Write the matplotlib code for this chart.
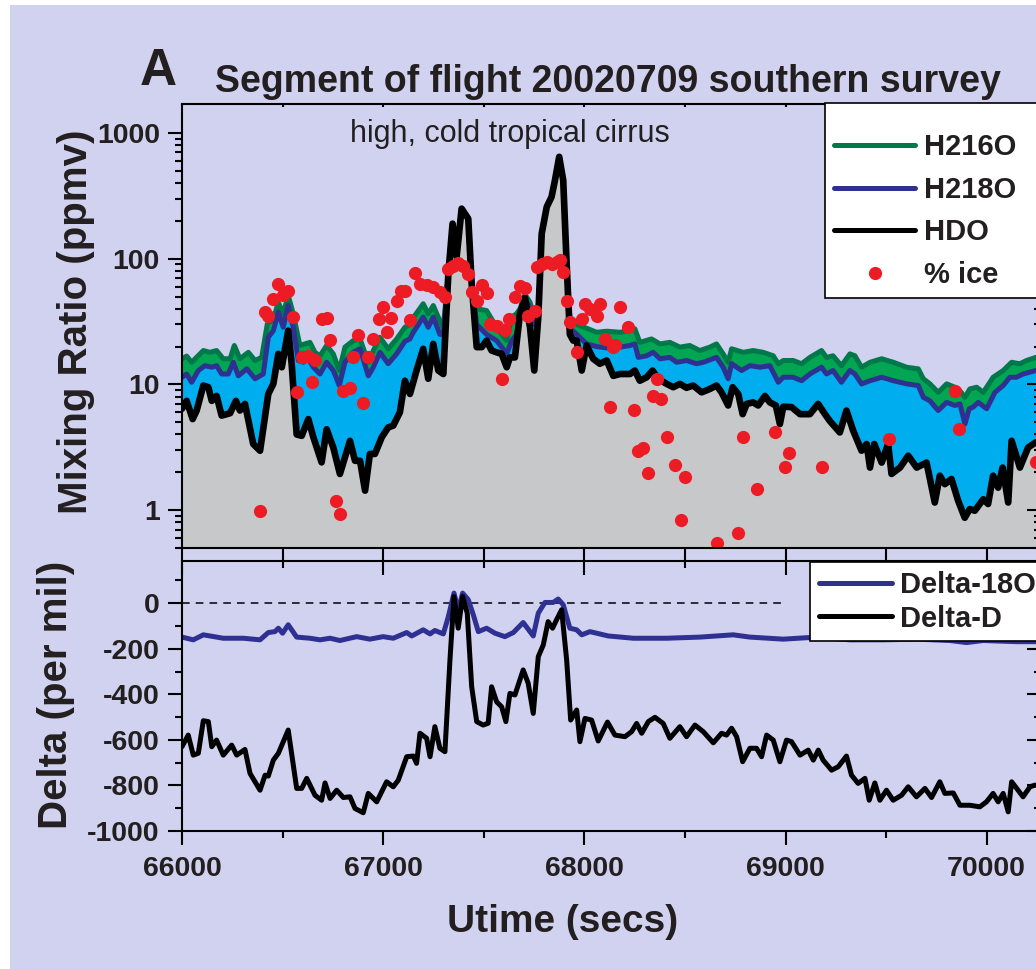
import numpy as np
import matplotlib
matplotlib.use("Agg")
import matplotlib.pyplot as plt
from matplotlib import lines as mlines
from matplotlib.patches import Rectangle
from matplotlib.ticker import MultipleLocator, LogLocator, NullFormatter, FormatStrFormatter

T0 = 66000  # start of the flight segment (secs)

# --- mixing ratios (ppmv); times are secs after T0 ---
hdo_t = [0, 23, 53, 73, 106, 131, 148, 172, 197, 239,
         268, 288, 313, 354, 388, 429, 454, 479, 496, 528,
         545, 570, 595, 628, 653, 694, 719, 752, 785, 835,
         860, 885, 910, 934, 959, 993, 1025, 1050, 1083, 1108,
         1133, 1166, 1199, 1224, 1249, 1274, 1299, 1324, 1345, 1365,
         1390, 1423, 1440, 1465, 1490, 1514, 1539, 1564, 1589, 1614,
         1630, 1655, 1680, 1705, 1730, 1751, 1771, 1788, 1813, 1837,
         1854, 1875, 1895, 1912, 1928, 1945, 1962, 1987, 2011, 2044,
         2077, 2111, 2144, 2177, 2227, 2251, 2276, 2310, 2339, 2367,
         2409, 2442, 2475, 2508, 2541, 2583, 2624, 2657, 2682, 2715,
         2737, 2765, 2787, 2807, 2839, 2864, 2898, 2922, 2952, 2972,
         2989, 3030, 3072, 3121, 3162, 3196, 3221, 3270, 3303, 3336,
         3378, 3403, 3420, 3441, 3478, 3510, 3527, 3569, 3610, 3652,
         3701, 3742, 3767, 3792, 3825, 3858, 3891, 3916, 3941, 3983,
         4007, 4032, 4057, 4079, 4107, 4124, 4165, 4206, 4244, 4270]
hdo = [6.4, 7.4, 5.3, 6.2, 9.8, 9.5, 7.4, 8.1, 5.65, 5.9,
       7.4, 6.2, 7.0, 3.36, 2.97, 8.4, 10.1, 17.5, 13.7, 26.8,
       14.6, 4.0, 3.9, 5.3, 3.8, 2.4, 4.4, 3.15, 1.94, 3.56,
       2.47, 2.47, 1.43, 2.8, 2.8, 3.8, 4.55, 4.7, 6.0, 10.7,
       8.4, 12.9, 19.2, 11.1, 21, 12.9, 12.1, 76, 190, 103,
       250, 208, 63, 19.8, 19.8, 22.3, 18.6, 18, 17.5, 13.7,
       16.4, 16.4, 36.5, 49, 28.5, 12.9, 34.3, 158, 258, 310,
       421, 646, 421, 91, 25, 22.3, 22.3, 12.9, 20.4, 16,
       14.6, 15.5, 11.7, 12.1, 12.1, 12.9, 10.7, 11.4, 12.9, 11.1,
       10.1, 9.5, 10.1, 9.4, 9.8, 8.65, 9.2, 9.8, 8.65, 6.8,
       9.5, 8.4, 5.8, 7.0, 7.2, 6.8, 8.1, 7.2, 6.8, 4.84,
       6.65, 6.6, 5.8, 5.8, 7.0, 5.8, 5.1, 4.15, 6.2, 4.3,
       2.97, 3.36, 2.18, 3.36, 2.39, 3.36, 1.94, 2.18, 2.71, 2.18,
       2.39, 1.15, 1.88, 1.61, 1.77, 1.19, 0.87, 1.02, 0.99, 1.22,
       1.12, 1.88, 1.51, 2.18, 1.15, 3.56, 2.18, 3.15, 3.46, 3.5]

h218o_t = [0, 23, 48, 81, 114, 148, 172, 197, 230, 255,
           280, 322, 363, 404, 429, 454, 479, 503, 528, 553,
           578, 603, 628, 653, 686, 719, 752, 782, 810, 851,
           885, 926, 951, 984, 1025, 1067, 1108, 1133, 1150, 1199,
           1224, 1249, 1282, 1299, 1324, 1345, 1365, 1390, 1423, 1440,
           1465, 1514, 1564, 1589, 1614, 1639, 1663, 1680, 1705, 1730,
           1751, 1771, 1788, 1813, 1837, 1854, 1875, 1895, 1912, 1928,
           1962, 2011, 2061, 2111, 2160, 2177, 2227, 2251, 2268, 2310,
           2342, 2376, 2425, 2459, 2508, 2558, 2591, 2657, 2690, 2715,
           2732, 2782, 2823, 2873, 2922, 2964, 2989, 3038, 3080, 3121,
           3179, 3204, 3236, 3278, 3320, 3345, 3378, 3420, 3478, 3536,
           3602, 3660, 3685, 3718, 3759, 3801, 3842, 3867, 3892, 3913,
           3933, 3958, 4000, 4041, 4082, 4115, 4148, 4181, 4244, 4270]
h218o = [11.4, 12.1, 10.4, 12.9, 14.1, 13.7, 14.1, 12.1, 12.1, 15.0,
         11.7, 13.3, 11.1, 12.1, 23.7, 26.8, 37.6, 28.5, 42.4, 28.5,
         15.5, 15.0, 16, 13.7, 12.1, 15.0, 12.9, 9.8, 15.0, 18,
         19.2, 11.7, 13.7, 18, 14.6, 17.5, 22, 23, 26, 34.3,
         28.5, 34.3, 25, 25, 76, 190, 103, 250, 208, 63,
         30, 25, 22.3, 19.8, 17.5, 22.3, 25, 36.5, 49, 40,
         30, 34.3, 158, 258, 310, 421, 646, 421, 91, 28,
         25, 21, 20, 19.5, 19.8, 19.8, 20.4, 21, 16.4, 16.9,
         18, 16, 16.4, 15, 15.5, 14.6, 15, 16.4, 13.7, 11.1,
         14.6, 12.9, 14.1, 13.7, 14.1, 10.4, 11.4, 11.4, 10.7, 12.1,
         13.7, 12.1, 12.9, 10.4, 12.9, 12.1, 10.1, 10.7, 11.4, 10.7,
         10.1, 9.8, 7.9, 7.4, 6.2, 7.2, 6.8, 7.0, 4.84, 6.4,
         6.6, 7.2, 6.4, 8.65, 9.8, 11.4, 11.4, 12.1, 12.9, 13]

h216o_t = [0, 23, 48, 106, 139, 172, 205, 239, 260, 288,
           330, 363, 396, 424, 454, 479, 503, 528, 553, 586,
           611, 636, 661, 686, 719, 752, 782, 810, 851, 885,
           926, 951, 984, 1025, 1067, 1108, 1133, 1150, 1199, 1224,
           1249, 1282, 1299, 1324, 1345, 1365, 1390, 1423, 1440, 1465,
           1514, 1564, 1589, 1614, 1639, 1663, 1680, 1705, 1730, 1751,
           1771, 1788, 1813, 1837, 1854, 1875, 1895, 1912, 1928, 1962,
           2011, 2061, 2111, 2177, 2227, 2251, 2276, 2334, 2376, 2425,
           2475, 2524, 2574, 2624, 2657, 2690, 2715, 2732, 2790, 2839,
           2889, 2939, 2964, 2989, 3038, 3080, 3121, 3179, 3204, 3236,
           3278, 3320, 3345, 3378, 3420, 3478, 3536, 3602, 3660, 3685,
           3718, 3759, 3801, 3842, 3867, 3892, 3916, 3950, 3983, 4032,
           4082, 4124, 4165, 4198, 4244, 4270]
h216o = [16, 16.8, 15, 18.6, 18, 18.6, 16, 16, 20.4, 16,
         18, 15.5, 16.4, 30.3, 33, 45, 36.5, 51, 36.5, 20.4,
         21, 21.6, 18, 16.9, 20.4, 17.5, 12.9, 19.8, 22.3, 23,
         15, 18.6, 23.7, 19.2, 23, 28.5, 30, 34, 43.8, 36.5,
         42.4, 32, 28.5, 76, 190, 103, 250, 208, 63, 40,
         38.7, 28.5, 25, 22.3, 34.3, 36.5, 40, 52, 45, 34,
         36, 158, 258, 310, 421, 646, 421, 91, 33, 30,
         28, 26, 26.5, 26, 26.8, 27.7, 21.6, 23, 21, 21.6,
         19.8, 20.4, 18.6, 19.8, 21, 17.5, 15, 19.2, 18, 18.6,
         18, 16.9, 14.6, 15.5, 15.5, 14.6, 16.4, 18.6, 16.4, 16.9,
         14.1, 17.5, 16.9, 13.7, 15, 16, 15, 13.7, 13.3, 11.1,
         10.1, 8.65, 10.1, 9.5, 8.9, 7.9, 9.2, 9.5, 8.65, 11.4,
         12.9, 15, 14.6, 15.5, 16.4, 16.5]

# percent of total water present as ice
ice_t = [388, 413, 429, 454, 479, 503, 528, 553, 570, 595,
         628, 645, 661, 694, 719, 736, 765, 785, 802, 835,
         851, 876, 901, 926, 948, 981, 998, 1020, 1037, 1067,
         1087, 1108, 1133, 1158, 1183, 1216, 1249, 1282, 1307, 1324,
         1348, 1373, 1398, 1423, 1440, 1465, 1490, 1517, 1531, 1564,
         1589, 1605, 1627, 1655, 1680, 1705, 1721, 1754, 1763, 1788,
         1813, 1837, 1862, 1879, 1892, 1912, 1928, 1962, 1987, 2003,
         2028, 2061, 2077, 2102, 2127, 2144, 2152, 2177, 2218, 2246,
         2268, 2293, 2318, 2339, 2359, 2381, 2409, 2450, 2480, 2501,
         2661, 2765, 2787, 2856, 2947, 2997, 3018, 3182, 3515, 3842,
         3863, 4244]
ice = [0.99, 37.6, 35.3, 48, 63, 51, 55, 34.3, 8.65, 16.6,
       16.9, 10.4, 15.5, 33, 33.8, 22.6, 1.19, 0.93, 8.9, 9.3,
       16.4, 24.9, 7.1, 16.6, 23, 33, 41.6, 26, 33.8, 46.5,
       55.6, 55.6, 32.3, 76.8, 63, 61.3, 59.2, 54.2, 49.3, 83,
       88, 92, 88, 76, 54, 46.5, 62, 53, 30.3, 29.4,
       11.1, 27, 33, 49.3, 61, 59, 35.3, 38.7, 86, 91,
       94, 91, 94, 98, 78, 46.5, 31.3, 18, 33, 43.7,
       40, 35.3, 43.7, 23, 6.6, 19.8, 20.4, 41, 28.8, 6.3,
       2.97, 3.15, 1.97, 8.05, 11.1, 7.66, 3.84, 2.28, 0.83, 1.82,
       0.546, 0.66, 3.84, 1.47, 4.15, 2.21, 2.83, 2.21, 3.68, 8.9,
       4.42, 2.4]

# --- isotope ratios (per mil) ---
d18o_t = [0, 56, 106, 205, 305, 388, 429, 462, 479, 500,
          528, 570, 636, 686, 736, 785, 868, 934, 1000, 1050,
          1117, 1142, 1199, 1233, 1257, 1299, 1324, 1352, 1373, 1395,
          1423, 1448, 1473, 1514, 1556, 1605, 1647, 1696, 1746, 1771,
          1804, 1845, 1870, 1895, 1928, 1962, 1987, 2028, 2119, 2243,
          2409, 2575, 2740, 2823, 2989, 3154, 3320, 3485, 3651, 3817,
          3900, 3983, 4148, 4239, 4270]
d18o = [-149, -161, -139, -154, -154, -161, -129, -125, -110, -132,
        -95, -149, -154, -161, -154, -164, -147, -158, -147, -154,
        -129, -144, -117, -135, -120, -135, -59, 44, -30, 44,
        15, -51, -125, -110, -132, -147, -129, -85, -144, -44,
        3, 3, 18, -7, -110, -117, -139, -125, -144, -154,
        -154, -149, -139, -149, -158, -149, -161, -161, -158, -164,
        -173, -164, -169, -169, -170]

dD_t = [0, 31, 56, 81, 106, 131, 148, 172, 205, 247,
        272, 313, 338, 388, 413, 429, 454, 479, 528, 570,
        595, 620, 661, 694, 711, 736, 769, 802, 835, 860,
        901, 926, 968, 1017, 1050, 1075, 1117, 1150, 1166, 1183,
        1216, 1233, 1257, 1282, 1307, 1332, 1352, 1373, 1395, 1418,
        1440, 1465, 1497, 1522, 1539, 1564, 1589, 1610, 1630, 1655,
        1696, 1721, 1746, 1771, 1796, 1820, 1842, 1862, 1887, 1912,
        1932, 1962, 1978, 2003, 2036, 2069, 2115, 2152, 2202, 2235,
        2260, 2285, 2318, 2351, 2392, 2425, 2475, 2508, 2550, 2591,
        2641, 2682, 2707, 2732, 2757, 2787, 2823, 2856, 2881, 2906,
        2939, 2972, 3005, 3030, 3072, 3113, 3138, 3163, 3187, 3229,
        3262, 3303, 3328, 3361, 3395, 3416, 3444, 3469, 3502, 3535,
        3577, 3610, 3651, 3693, 3726, 3767, 3792, 3834, 3867, 3916,
        3966, 3999, 4032, 4057, 4082, 4107, 4124, 4156, 4181, 4215,
        4239, 4270]
dD = [-630, -579, -667, -659, -516, -520, -630, -601, -667, -623,
      -667, -642, -747, -821, -755, -759, -689, -659, -557, -813,
      -813, -769, -843, -865, -789, -857, -821, -853, -850, -901,
      -920, -835, -872, -784, -806, -777, -674, -671, -703, -571,
      -593, -674, -542, -637, -652, -249, 29, -110, 29, -44,
      -367, -520, -535, -527, -367, -433, -455, -520, -396, -403,
      -293, -352, -484, -235, -183, -81, -110, -73, -29, -249,
      -513, -469, -608, -506, -513, -605, -522, -579, -586, -564,
      -528, -571, -520, -501, -528, -593, -542, -586, -535, -564,
      -613, -571, -579, -549, -586, -696, -637, -637, -674, -579,
      -601, -696, -601, -608, -667, -645, -689, -645, -689, -733,
      -718, -671, -755, -791, -769, -865, -789, -865, -821, -865,
      -843, -806, -850, -813, -853, -784, -835, -833, -887, -887,
      -894, -872, -835, -872, -835, -916, -784, -821, -850, -806,
      -799, -800]

x_ticks = [66000, 67000, 68000, 69000, 70000]
mix_ticks = [1, 10, 100, 1000]
delta_ticks = [-1000, -800, -600, -400, -200, 0]

# colours
BG = '#d1d2ef'
INK = '#231f20'
GREEN_LINE = '#00784a'
GREEN_FILL = '#00a651'
CYAN = '#00aeef'
BLUE = '#2e3192'
GRAY = '#c7c8ca'
RED = '#ed1c24'

plt.rcParams['font.family'] = ['Liberation Sans', 'DejaVu Sans']
plt.rcParams['font.weight'] = 'bold'
plt.rcParams['axes.unicode_minus'] = False

W, H = 1036, 969
fig = plt.figure(figsize=(W / 100, H / 100), dpi=100, facecolor='white')
fig.add_artist(Rectangle((10 / W, 0), 1, 1 - 5 / H, transform=fig.transFigure,
                         facecolor=BG, edgecolor='none', zorder=-10))

left, right = 182 / W, 1041 / W
ax1 = fig.add_axes([left, 1 - 548 / H, right - left, (548 - 104) / H])
ax2 = fig.add_axes([left, 1 - 831 / H, right - left, (831 - 561) / H])


def t(offs):
    return T0 + np.asarray(offs)


# ---- upper panel: stacked mixing ratios ----
floor = 0.01
ax1.fill_between(t(h216o_t), h216o, floor, color=GREEN_FILL, lw=0)
ax1.fill_between(t(h218o_t), h218o, floor, color=CYAN, lw=0)
ax1.fill_between(t(hdo_t), hdo, floor, color=GRAY, lw=0)
ax1.plot(t(h216o_t), h216o, color=GREEN_LINE, lw=3.6, solid_capstyle='round', label='H216O')
ax1.plot(t(h218o_t), h218o, color=BLUE, lw=3.6, solid_capstyle='round', label='H218O')
ax1.plot(t(hdo_t), hdo, color='black', lw=4.8, solid_capstyle='round', label='HDO')
ax1.plot(t(ice_t), ice, 'o', color=RED, ms=9.5, mew=0, label='% ice')

ax1.set_yscale('log')
ax1.set_ylim(0.5, 1700)
ax1.set_yticks(mix_ticks)
ax1.set_yticklabels([str(v) for v in mix_ticks])
ax1.yaxis.set_minor_locator(LogLocator(base=10, subs=np.arange(2, 10)))
ax1.yaxis.set_minor_formatter(NullFormatter())

ax1.text(0.382, 0.914, 'high, cold tropical cirrus', transform=ax1.transAxes,
         ha='center', va='baseline', fontsize=22, fontweight='normal', color=INK)

# ---- lower panel: delta values ----
ax2.hlines(0, 66000, 69000, colors='black', linestyles=(0, (5, 4)), lw=1.1)
ax2.plot(t(d18o_t), d18o, color=BLUE, lw=3.6, solid_capstyle='round', label='Delta-18O')
ax2.plot(t(dD_t), dD, color='black', lw=3.6, solid_capstyle='round', label='Delta-D')
ax2.set_ylim(-1000, 185)
ax2.set_yticks(delta_ticks)
ax2.yaxis.set_minor_locator(MultipleLocator(100))
ax2.xaxis.set_major_formatter(FormatStrFormatter('%d'))

for ax in (ax1, ax2):
    ax.set_facecolor(BG)
    ax.set_xlim(66000, 70270)
    ax.set_xticks(x_ticks)
    ax.xaxis.set_minor_locator(MultipleLocator(500))
    for s in ax.spines.values():
        s.set_linewidth(1.5)
    ax.tick_params(which='both', direction='out', width=1.5, labelsize=20.5,
                   labelcolor=INK, left=True, right=True, bottom=True, top=True)
    ax.tick_params(axis='y', which='major', length=10, pad=6)
    ax.tick_params(axis='y', which='minor', length=5)

ax1.tick_params(axis='x', which='both', length=9.5, labelbottom=False)
ax2.tick_params(axis='x', which='major', length=10, pad=8)
ax2.tick_params(axis='x', which='minor', length=5)

# outward ticks on the left/bottom, inward ticks on the right/top
for ax in (ax1, ax2):
    for tk in ax.yaxis.get_major_ticks() + ax.yaxis.get_minor_ticks():
        tk.tick2line.set_marker(mlines.TICKLEFT)
    for tk in ax.xaxis.get_major_ticks() + ax.xaxis.get_minor_ticks():
        tk.tick2line.set_marker(mlines.TICKDOWN)
        if ax is ax1:
            tk.tick2line.set_markersize(2.5)

# ---- legends ----
leg_kw = dict(mode='expand', borderaxespad=0, borderpad=0.3, handletextpad=0.3,
              numpoints=1, fancybox=False, framealpha=1, edgecolor='black',
              prop={'weight': 'bold', 'size': 21}, bbox_transform=fig.transFigure,
              loc='upper left')
top1 = 1 - 103 / H
leg1 = ax1.legend(bbox_to_anchor=(825 / W, top1 - 0.3, 0.3, 0.3), handlelength=2.8,
                  labelspacing=0.5, title=' ', title_fontsize=6, **leg_kw)
top2 = 1 - 562 / H
leg2 = ax2.legend(bbox_to_anchor=(810 / W, top2 - 0.2, 0.3, 0.2), handlelength=2.5,
                  labelspacing=0.2, **leg_kw)
for leg in (leg1, leg2):
    leg.get_frame().set_linewidth(1.2)
    for txt in leg.get_texts():
        txt.set_color(INK)
    for ln in leg.get_lines():
        ln.set_linewidth(3.6)

# ---- labels ----
fig.text(140 / W, 1 - 85 / H, 'A', fontsize=37, color=INK, ha='left', va='baseline')
fig.text(608 / W, 1 - 92 / H, 'Segment of flight 20020709 southern survey',
         fontsize=27, color=INK, ha='center', va='baseline')
fig.text(76 / W, 1 - 322 / H, 'Mixing Ratio (ppmv)', rotation=90, fontsize=29,
         color=INK, ha='center', va='center')
fig.text(56 / W, 1 - 695 / H, 'Delta (per mil)', rotation=90, fontsize=29,
         color=INK, ha='center', va='center')
fig.text(563 / W, 1 - 932 / H, 'Utime (secs)', fontsize=28, color=INK,
         ha='center', va='baseline')

fig.savefig('out.png', dpi=100, facecolor=fig.get_facecolor())
